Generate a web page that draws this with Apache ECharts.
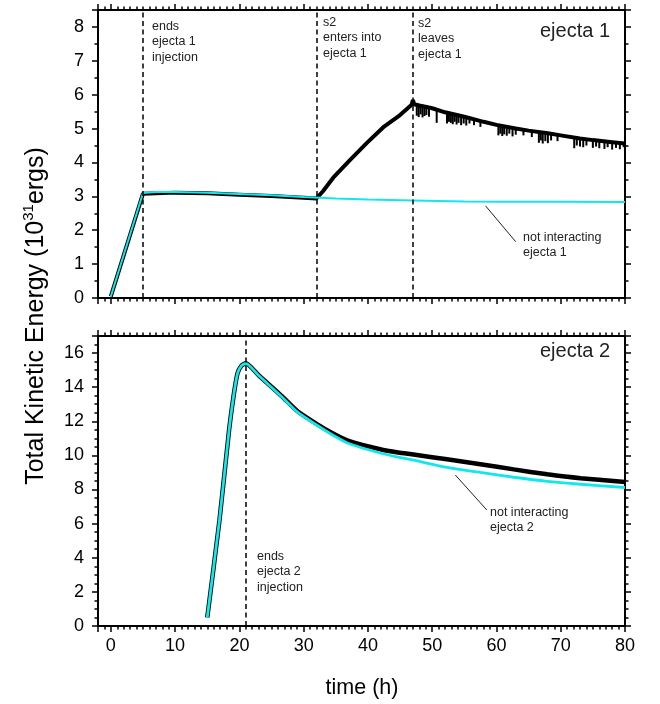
<!DOCTYPE html>
<html>
<head>
<meta charset="utf-8">
<script src="https://cdn.jsdelivr.net/npm/echarts@6/dist/echarts.min.js"></script>
<style>
html,body{margin:0;padding:0;background:#fff}
#main{width:660px;height:704px}
</style>
</head>
<body>
<div id="main"></div>
<script>
// values (time in h, energy in 1e31 erg)
var xMin = -2, xMax = 80;
var yTopMax = 8.5, yBotMax = 17;

// ejecta 1, not interacting (cyan)
var ej1Free = [[0,0.05],[5,3.1],[7,3.13],[10,3.13],[15,3.11],[20,3.07],[25,3.03],[30,2.98],[35,2.94],
  [40,2.91],[47,2.88],[55,2.85],[60,2.84],[70,2.84],[80,2.83]];
// ejecta 1, hit by s2 (black)
var ej1Hit = [[0,0.05],[5,3.08],[10,3.11],[15,3.09],[20,3.05],[25,3.01],[30,2.96],[32,2.94],[33,3.15],
  [34.6,3.55],[37.2,4.07],[39.8,4.57],[42.4,5.04],[45,5.4],[46.8,5.7],[47,5.84],[47.2,5.72],[48,5.68],
  [50,5.6],[52,5.48],[55,5.35],[58,5.2],[60,5.11],[63,5.0],[65,4.94],[68,4.86],[70,4.8],[73,4.71],
  [75,4.66],[78,4.6],[80,4.56]];
// downward jags on the black curve after s2 leaves: [t, top, bottom]
var ej1Jags = [[47.6,5.7,5.38],[47.9,5.69,5.34],[48.2,5.68,5.42],[48.5,5.67,5.33],[48.8,5.66,5.37],
  [49.1,5.65,5.4],[49.5,5.63,5.35],[50.7,5.58,5.17],
  [52.3,5.47,5.15],[52.6,5.46,5.2],[52.9,5.45,5.17],[53.2,5.43,5.13],[53.5,5.42,5.2],[53.8,5.4,5.12],
  [54.1,5.39,5.17],[54.5,5.37,5.1],[54.9,5.35,5.15],[55.3,5.33,5.09],[55.8,5.31,5.15],
  [56.5,5.28,5.1],[57.5,5.23,5.05],
  [60.3,5.1,4.8],[60.6,5.09,4.85],[60.9,5.08,4.78],[61.2,5.07,4.83],[61.6,5.05,4.79],[62,5.04,4.85],
  [62.5,5.02,4.77],[63,5.0,4.82],[64.2,4.97,4.8],[65.5,4.93,4.75],
  [66.6,4.9,4.58],[66.9,4.89,4.65],[67.2,4.88,4.56],[67.6,4.87,4.63],[68,4.86,4.57],[68.5,4.84,4.65],
  [69.5,4.82,4.63],
  [72.1,4.74,4.42],[72.5,4.73,4.5],[73,4.71,4.47],[73.5,4.7,4.45],[74,4.69,4.5],
  [75,4.66,4.43],[75.5,4.65,4.47],[76,4.64,4.42],[76.8,4.62,4.4],[77.3,4.61,4.45],
  [78,4.6,4.38],[78.6,4.59,4.43],[79.2,4.58,4.39],[79.8,4.57,4.45]];

// ejecta 2
var ej2Hit = [[15,0.5],[16.9,6.2],[18.4,11.5],[19.1,13.5],[19.7,14.8],[20.3,15.25],[21,15.4],[23,14.7],
  [26.7,13.44],[29,12.6],[32,11.85],[34.5,11.3],[37,10.85],[41.9,10.36],[44.7,10.17],[47.1,10.05],
  [52.3,9.77],[57.5,9.48],[62.7,9.18],[67.9,8.89],[73.1,8.66],[80,8.44]];
var ej2Free = [[15,0.5],[16.9,6.2],[18.4,11.5],[19.1,13.5],[19.7,14.8],[20.3,15.25],[21,15.4],[23,14.68],
  [26.7,13.4],[29,12.55],[32,11.78],[34.5,11.2],[37,10.7],[41.9,10.14],[44.7,9.9],[47.1,9.72],
  [52.3,9.3],[57.5,9.0],[62.7,8.72],[67.9,8.48],[73.1,8.31],[80,8.12]];

// event times (dashed lines)
var topEvents = [5, 32, 47];
var botEvents = [21];
// leader lines for the "not interacting" notes
var leadTop = [[58.3,2.72],[63,1.66]];
var leadBot = [[53.6,8.85],[58.5,6.8]];

var FONT = '"Liberation Sans", Arial, sans-serif';
var CYAN = '#12e8ec';

function xAxes(grid, labels) {
  var base = {type:'value', gridIndex:grid, min:xMin, max:xMax, splitLine:{show:false}};
  var res = [];
  ['bottom','top'].forEach(function (pos) {
    res.push(Object.assign({}, base, {
      position:pos, splitNumber:8,
      axisLine:{show:true, onZero:false, lineStyle:{color:'#000', width:2}},
      axisTick:{show:true, length:6, lineStyle:{color:'#000', width:1.5}},
      axisLabel:{show:labels && pos === 'bottom', color:'#000', fontSize:18, fontFamily:FONT, margin:11,
        formatter:function (v) { return v % 10 === 0 ? String(v) : ''; }}
    }));
    res.push(Object.assign({}, base, {
      position:pos, interval:1,
      axisLine:{show:false, onZero:false},
      axisTick:{show:true, length:3.5, lineStyle:{color:'#000', width:1.5}},
      axisLabel:{show:false}
    }));
  });
  return res;
}

function yAxes(grid, max, step, minorStep) {
  var base = {type:'value', gridIndex:grid, min:0, max:max, splitLine:{show:false}};
  var res = [];
  ['left','right'].forEach(function (pos) {
    res.push(Object.assign({}, base, {
      position:pos, interval:step,
      axisLine:{show:true, onZero:false, lineStyle:{color:'#000', width:2}},
      axisTick:{show:true, length:6, lineStyle:{color:'#000', width:1.5}},
      axisLabel:{show:pos === 'left', color:'#000', fontSize:18, fontFamily:FONT, margin:14,
        formatter:function (v) { return v % step === 0 ? String(v) : ''; }}
    }));
    res.push(Object.assign({}, base, {
      position:pos, interval:minorStep,
      axisLine:{show:false, onZero:false},
      axisTick:{show:true, length:3.5, lineStyle:{color:'#000', width:1.5}},
      axisLabel:{show:false}
    }));
  });
  return res;
}

var dashed = {color:'#000', width:1.5, type:[5,3.5]};
function vlines(list) {
  return {silent:true, symbol:'none', label:{show:false}, lineStyle:dashed,
    data:list.map(function (t) { return {xAxis:t}; })};
}
function leader(pair) {
  return [{coord:pair[0]}, {coord:pair[1]}];
}

function note(x, y, lines, size, align) {
  return {type:'text', x:x, y:y, style:{text:lines.join('\n'), fontSize:size || 12.5, fontFamily:FONT,
    fill:'#222', lineHeight:size ? size + 2 : 15.5, align:align || 'left', verticalAlign:'middle'}};
}

var chart = echarts.init(document.getElementById('main'));
chart.setOption({
  animation:false,
  backgroundColor:'#fff',
  grid:[
    {left:98, right:35, top:10, height:288},
    {left:98, right:35, top:336, height:290}
  ],
  xAxis:xAxes(0, false).concat(xAxes(1, true)),
  yAxis:yAxes(0, yTopMax, 1, 0.5).concat(yAxes(1, yBotMax, 2, 0.5)),
  series:[
    {type:'line', xAxisIndex:0, yAxisIndex:0, data:ej1Hit, showSymbol:false, z:2,
      lineStyle:{color:'#000', width:4}},
    {type:'custom', xAxisIndex:0, yAxisIndex:0, data:ej1Jags, z:2, silent:true,
      encode:{x:0, y:[1,2]},
      renderItem:function (params, api) {
        var a = api.coord([api.value(0), api.value(1)]);
        var b = api.coord([api.value(0), api.value(2)]);
        return {type:'line', shape:{x1:a[0], y1:a[1], x2:b[0], y2:b[1]},
          style:{stroke:'#000', lineWidth:2}};
      }},
    {type:'line', xAxisIndex:0, yAxisIndex:0, data:ej1Free, showSymbol:false, z:3,
      lineStyle:{color:CYAN, width:2},
      markLine:vlines(topEvents)},
    {type:'line', xAxisIndex:0, yAxisIndex:0, data:[], showSymbol:false, z:3,
      markLine:{silent:true, symbol:'none', label:{show:false},
        lineStyle:{color:'#222', width:1, type:'solid'}, data:[leader(leadTop)]}},
    {type:'line', xAxisIndex:4, yAxisIndex:4, data:ej2Hit, showSymbol:false, z:2, smooth:0.2,
      lineStyle:{color:'#000', width:4.5}},
    {type:'line', xAxisIndex:4, yAxisIndex:4, data:ej2Free, showSymbol:false, z:3, smooth:0.2,
      lineStyle:{color:CYAN, width:2.8},
      markLine:vlines(botEvents)},
    {type:'line', xAxisIndex:4, yAxisIndex:4, data:[], showSymbol:false, z:3,
      markLine:{silent:true, symbol:'none', label:{show:false},
        lineStyle:{color:'#222', width:1, type:'solid'}, data:[leader(leadBot)]}}
  ],
  graphic:[
    note(152, 42, ['ends','ejecta 1','injection']),
    note(323, 38, ['s2','enters into','ejecta 1']),
    note(418, 39, ['s2','leaves','ejecta 1']),
    note(523, 245, ['not interacting','ejecta 1']),
    note(257, 572, ['ends','ejecta 2','injection']),
    note(490, 520, ['not interacting','ejecta 2']),
    note(610, 31, ['ejecta 1'], 20, 'right'),
    note(610, 351, ['ejecta 2'], 20, 'right'),
    {type:'text', x:362, y:688, style:{text:'time (h)', fontSize:21.5, fontFamily:FONT, fill:'#000',
      align:'center', verticalAlign:'middle'}},
    {type:'text', x:36, y:316, rotation:Math.PI / 2,
      style:{text:'{a|Total Kinetic Energy (10}{s|31}{a|ergs)}', align:'center', verticalAlign:'middle',
        rich:{a:{fontSize:25, fontFamily:FONT, fill:'#000'},
              s:{fontSize:15, fontFamily:FONT, fill:'#000', padding:[0,0,15,0]}}}}
  ]
});
</script>
</body>
</html>
